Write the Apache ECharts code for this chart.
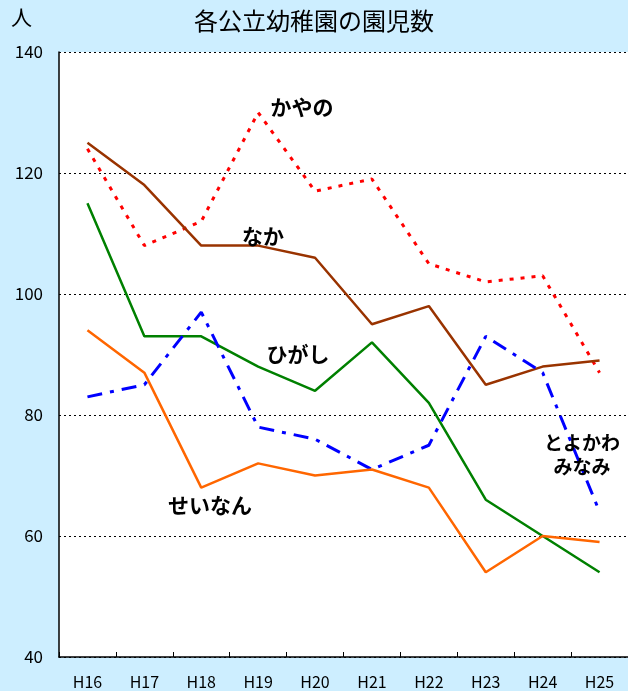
<!DOCTYPE html>
<html><head><meta charset="utf-8">
<script src="https://cdn.jsdelivr.net/npm/echarts@6/dist/echarts.min.js"></script>
<style>html,body{margin:0;padding:0;background:#cdeeff;}#c{width:628px;height:691px;}</style>
</head><body><div id="c"></div>
<script>
const categories = ['H16','H17','H18','H19','H20','H21','H22','H23','H24','H25'];
const kayano = [124,108,112,130,117,119,105,102,103,87];
const naka = [125,118,108,108,106,95,98,85,88,89];
const higashi = [115,93,93,88,84,92,82,66,60,54];
const toyokawaMinami = [83,85,97,78,76,71,75,93,87,64];
const seinan = [94,87,68,72,70,71,68,54,60,59];
const yTicks = [40,60,80,100,120,140];

const F = '"Noto Sans CJK JP", "Noto Sans", sans-serif';
const chart = echarts.init(document.getElementById('c'));
const lbl = (text, x, y, size) => ({type:'text', x:x, y:y, z:10, style:{text:text, font:'bold ' + size + 'px ' + F, fill:'#000', align:'center', verticalAlign:'middle'}});
chart.setOption({
  backgroundColor:'#cdeeff',
  animation:false,
  title:{text:'各公立幼稚園の園児数', left:'center', top:4, textStyle:{fontFamily:F, fontSize:24, fontWeight:'normal', color:'#000'}},
  grid:{left:59, top:52, bottom:34, width:574, backgroundColor:'#fff', show:true, borderWidth:0},
  xAxis:{type:'category', data:categories, boundaryGap:true,
    axisLine:{lineStyle:{color:'#000', width:1.5}},
    axisTick:{show:true, length:5, inside:true, lineStyle:{color:'#000'}},
    axisLabel:{fontFamily:F, fontSize:16, color:'#000', margin:17}},
  yAxis:{type:'value', min:40, max:140, interval:20,
    axisLine:{show:true, lineStyle:{color:'#000', width:1.5}},
    axisTick:{show:false},
    splitLine:{show:true, lineStyle:{color:'#000', type:[2,3], width:1}},
    axisLabel:{fontFamily:F, fontSize:17, color:'#000', margin:16,
      formatter: v => yTicks.includes(v) ? String(v) : ''}},
  graphic:[
    {type:'text', left:11, top:7, style:{text:'人', font:'21px ' + F, fill:'#000'}},
    lbl('かやの', 302, 107, 21),
    lbl('なか', 263, 236, 21),
    lbl('ひがし', 298, 354, 21),
    lbl('とよかわ', 582, 443, 19),
    lbl('みなみ', 582, 467, 19),
    lbl('せいなん', 210, 505, 21)
  ],
  series:[
    {name:'かやの', type:'line', data:kayano, symbol:'none', lineStyle:{color:'#ff0000', width:3, type:[4,7]}},
    {name:'なか', type:'line', data:naka, symbol:'none', lineStyle:{color:'#993300', width:2.5}},
    {name:'ひがし', type:'line', data:higashi, symbol:'none', lineStyle:{color:'#008000', width:2.5}},
    {name:'とよかわみなみ', type:'line', data:toyokawaMinami, symbol:'none', lineStyle:{color:'#0000ff', width:3, type:[15,8,4,8]}},
    {name:'せいなん', type:'line', data:seinan, symbol:'none', lineStyle:{color:'#ff6600', width:2.5}}
  ]
});
</script></body></html>
